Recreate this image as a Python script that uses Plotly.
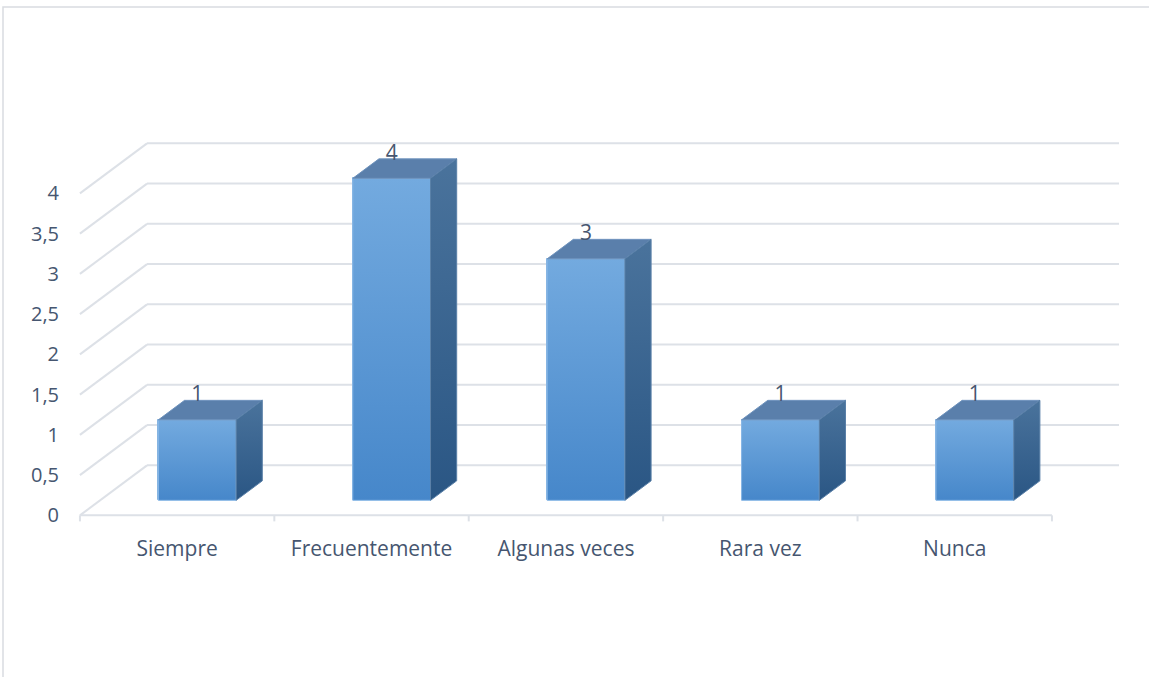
import plotly.graph_objects as go

# ---------------- data ----------------
categories = ["Siempre", "Frecuentemente", "Algunas veces", "Rara vez", "Nunca"]
values = [1, 4, 3, 1, 1]
y_tick_values = [0, 0.5, 1, 1.5, 2, 2.5, 3, 3.5, 4]
y_tick_labels = ["0", "0,5", "1", "1,5", "2", "2,5", "3", "3,5", "4"]

# ---------------- style / projection ----------------
W, H = 1149, 677
M_L, M_R, M_T, M_B = 78, 27, 100, 152
PX_X, PX_Y = 194.4, 80.5          # pixels per category / per value unit
X_MIN, Y_MIN = -0.51, -0.12
DX, DY = 0.345, 0.621             # depth offset of the back wall (data units)
F0, F1 = 0.30, 0.69               # bar front / back depth fractions
BAR_W = 0.40
TICK_LEN = 0.075
LABEL_DROP = 0.075                # label sits slightly into the top face
FONT = "Open Sans"
TEXT = "#465670"
GRID = "#dde1e7"

plot_w = W - M_L - M_R
plot_h = H - M_T - M_B
x_range = [X_MIN, X_MIN + plot_w / PX_X]
y_range = [Y_MIN, Y_MIN + plot_h / PX_Y]

n = len(categories)
x_left, x_right = -0.5, n - 0.5

fig = go.Figure()

# ---------- walls / grid (shapes below traces) ----------
shapes = []
for v in y_tick_values:
    shapes.append(dict(type="line", xref="x", yref="y", layer="below",
                       x0=x_left + DX, y0=v + DY, x1=x_right + DX, y1=v + DY,
                       line=dict(color=GRID, width=2)))
    shapes.append(dict(type="line", xref="x", yref="y", layer="below",
                       x0=x_left, y0=v, x1=x_left + DX, y1=v + DY,
                       line=dict(color=GRID, width=2)))
# front category axis
shapes.append(dict(type="line", xref="x", yref="y", layer="below",
                   x0=x_left, y0=0, x1=x_right, y1=0,
                   line=dict(color=GRID, width=2)))
for k in range(n + 1):
    b = k - 0.5
    shapes.append(dict(type="line", xref="x", yref="y", layer="below",
                       x0=b, y0=0, x1=b, y1=-TICK_LEN,
                       line=dict(color=GRID, width=2)))
# chart border
shapes.append(dict(type="rect", xref="paper", yref="paper", layer="below",
                   x0=(3 - M_L) / plot_w, x1=(W + 10 - M_L) / plot_w,
                   y0=(H - M_B - (H + 10)) / plot_h, y1=(H - M_B - 7) / plot_h,
                   line=dict(color="#d9dce1", width=1.5)))

# ---------- bars ----------
xs = [i + F0 * DX for i in range(n)]
base = F0 * DY
fig.add_trace(go.Bar(
    x=xs, y=values, base=[base] * n, width=BAR_W,
    marker=dict(color="#5b9ad6", line=dict(color="#86b4e2", width=1)),
    hoverinfo="skip", showlegend=False))

ddx = (F1 - F0) * DX
ddy = (F1 - F0) * DY
for xc, v in zip(xs, values):
    xl, xr = xc - BAR_W / 2, xc + BAR_W / 2
    yb, yt = base, base + v
    # front face gradient
    fig.add_trace(go.Scatter(
        x=[xl, xr, xr, xl, xl], y=[yb, yb, yt, yt, yb], mode="lines",
        fill="toself",
        fillgradient=dict(type="vertical",
                          colorscale=[[0, "#4687ca"], [1, "#73aadf"]],
                          start=yb, stop=yt),
        line=dict(color="#8ab8e6", width=1),
        hoverinfo="skip", showlegend=False))
    # top face
    fig.add_trace(go.Scatter(
        x=[xl, xr, xr + ddx, xl + ddx, xl], y=[yt, yt, yt + ddy, yt + ddy, yt],
        mode="lines", fill="toself", fillcolor="#5a7fab",
        line=dict(color="#6f93bd", width=1),
        hoverinfo="skip", showlegend=False))
    # side face
    fig.add_trace(go.Scatter(
        x=[xr, xr + ddx, xr + ddx, xr, xr], y=[yb, yb + ddy, yt + ddy, yt, yb],
        mode="lines", fill="toself",
        fillgradient=dict(type="vertical",
                          colorscale=[[0, "#2a5684"], [1, "#4a739c"]],
                          start=yb, stop=yt + ddy),
        line=dict(color="#5a80a8", width=1),
        hoverinfo="skip", showlegend=False))

# ---------- data labels ----------
fig.add_trace(go.Scatter(
    x=xs, y=[v + F1 * DY - LABEL_DROP for v in values], mode="text",
    text=[str(v) for v in values], textposition="top center",
    textfont=dict(family=FONT, size=21, color=TEXT),
    cliponaxis=False, hoverinfo="skip", showlegend=False))

fig.update_layout(
    width=W, height=H,
    margin=dict(l=M_L, r=M_R, t=M_T, b=M_B, pad=0),
    paper_bgcolor="white", plot_bgcolor="white",
    font=dict(family=FONT, size=21, color=TEXT),
    shapes=shapes,
    bargap=0,
    xaxis=dict(range=x_range, tickvals=list(range(n)), ticktext=categories,
               showgrid=False, zeroline=False, showline=False, ticks="",
               ticklabelstandoff=9, tickfont=dict(family=FONT, size=21, color=TEXT),
               fixedrange=True),
    yaxis=dict(range=y_range, tickvals=y_tick_values, ticktext=y_tick_labels,
               showgrid=False, zeroline=False, showline=False, ticks="",
               ticklabelstandoff=18, tickfont=dict(family=FONT, size=20, color=TEXT),
               fixedrange=True),
)

fig.write_html("out.html", config={"displayModeBar": False},
               post_script="document.body.style.margin='0';")
